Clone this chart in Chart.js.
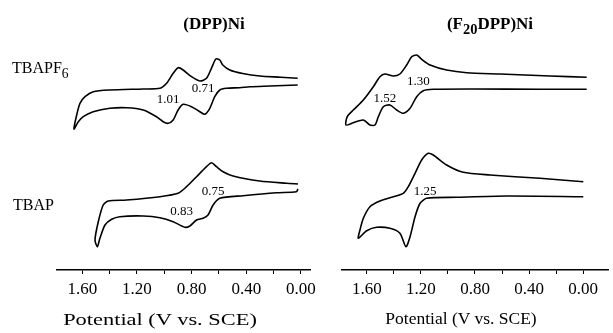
<!DOCTYPE html>
<html>
<head>
<meta charset="utf-8">
<script src="https://cdn.jsdelivr.net/npm/chart.js@4.4.0/dist/chart.umd.min.js"></script>
<style>
  body { margin: 0; background: #fff; width: 613px; height: 333px; position: relative; overflow: hidden;
         font-family: "Liberation Serif", "DejaVu Serif", serif; color: #000; }
  .box { position: absolute; top: 0; height: 333px; }
  #leftBox { left: 0; width: 330px; }
  #rightBox { left: 313px; width: 300px; }
  .txt { position: absolute; white-space: nowrap; line-height: 1; }
  .title { font-weight: bold; font-size: 17px; transform: translate(-50%, -50%); }
  .axis { font-size: 17.5px; }
  .row { font-size: 16px; transform: translateY(-50%); }
  sub { font-size: 0.85em; vertical-align: -0.35em; line-height: 0; }
</style>
</head>
<body>
<div class="box" id="leftBox"><canvas id="left"></canvas></div>
<div class="box" id="rightBox"><canvas id="right"></canvas></div>
<div class="txt title" style="left:214px;top:23px">(DPP)Ni</div>
<div class="txt title" style="left:490px;top:23px">(F<sub>20</sub>DPP)Ni</div>
<div class="txt row" style="left:12px;top:68px">TBAPF<sub>6</sub></div>
<div class="txt row" style="left:13px;top:205px">TBAP</div>
<div class="txt axis" style="left:160px;top:320px;transform:translate(-50%,-50%) scaleX(1.28)">Potential (V vs. SCE)</div>
<div class="txt axis" style="left:461px;top:319px;transform:translate(-50%,-50%)">Potential (V vs. SCE)</div>
<script>
// potentials (V vs. SCE) and currents (arbitrary units, curves offset vertically)
// each curve is traced as one loop: return branch right->left, then forward branch left->right

// (DPP)Ni, TBAPF6
const dppPf6E = [0.024, 0.229, 0.375, 0.448, 0.545, 0.594, 0.631, 0.667, 0.704, 0.740, 0.801, 0.862, 0.899, 0.935,
  0.972, 1.008, 1.057, 1.154, 1.276, 1.398, 1.520, 1.593, 1.629, 1.661,
  1.641, 1.617, 1.580, 1.520, 1.398, 1.157, 1.032, 0.983, 0.935, 0.899, 0.862, 0.801, 0.740, 0.691, 0.655,
  0.623, 0.594, 0.572, 0.521, 0.426, 0.300, 0.150, 0.024];
const dppPf6I = [185, 184, 183.3, 182.3, 181.7, 180, 173.3, 161.7, 155.7, 158.3, 163.3, 165.7, 160, 150,
  146.7, 148.3, 153.3, 160, 162.3, 161.7, 158.3, 153.3, 148.3, 141,
  155, 166.7, 173.3, 178.3, 180, 181, 181.7, 186.7, 196.7, 202.3, 200, 193.3, 189, 191.7, 201.7,
  211, 210, 205, 200, 196.5, 194, 192.8, 191.7];

// (DPP)Ni, TBAP
const dppTbapE = [0.022, 0.034, 0.180, 0.424, 0.594, 0.643, 0.680, 0.716, 0.764, 0.813, 0.850, 0.935, 1.032,
  1.154, 1.325, 1.385, 1.434, 1.471, 1.490,
  1.507, 1.483, 1.447, 1.410, 1.276, 1.032, 0.899, 0.837, 0.764, 0.691, 0.655, 0.618, 0.570, 0.497,
  0.302, 0.107, 0.022];
const dppTbapI = [81, 78.3, 77.3, 74.3, 71.7, 65, 55, 51.7, 50, 44, 42.7, 48.3, 52.3,
  54, 53.3, 50.7, 45, 31.7, 23.3,
  30, 48.3, 65, 69, 70, 73.3, 76.7, 83.3, 93.3, 103.3, 107.3, 103.3, 98.3, 94,
  89, 86.7, 86];

// (F20DPP)Ni, TBAPF6
const f20Pf6E = [-0.027, 0.319, 0.813, 1.109, 1.183, 1.232, 1.281, 1.331, 1.380, 1.430, 1.479, 1.516, 1.541,
  1.578, 1.627, 1.701, 1.756,
  1.746, 1.701, 1.627, 1.553, 1.504, 1.467, 1.405, 1.356, 1.306, 1.269, 1.232, 1.195, 1.133, 1.010,
  0.861, 0.615, 0.244, -0.027];
const f20Pf6I = [180.7, 180.7, 181, 180.7, 179.3, 173.3, 161.7, 156.7, 160, 165, 163.3, 153.3, 145,
  145, 150, 147.3, 145,
  153.3, 160, 170, 183.3, 193.3, 196, 194, 196, 205, 213.3, 215, 210.7, 205, 200,
  197.3, 196, 194, 192.7];

// (F20DPP)Ni, TBAP
const f20TbapE = [-0.002, 0.565, 0.936, 1.158, 1.207, 1.244, 1.281, 1.311, 1.356, 1.430, 1.528, 1.602, 1.664,
  1.652, 1.627, 1.578, 1.504, 1.405, 1.331, 1.294, 1.244, 1.195, 1.146, 1.109, 1.010, 0.887, 0.689,
  0.319, -0.002];
const f20TbapI = [73.3, 74, 72.7, 71.7, 66.7, 53.3, 33.3, 23.3, 36.7, 41.7, 42.7, 39.3, 31.7,
  40, 51.7, 63.3, 69, 73.3, 76.7, 83.3, 96.7, 110, 116.7, 115, 105, 97.7, 95,
  91.7, 88.3];

// peak potentials written inside the loops
const dppPeakText = ["1.01", "0.71", "0.75", "0.83"];
const dppPeakE = [0.972, 0.716, 0.643, 0.874];
const dppPeakI = [170, 181.7, 78.3, 58.3];
const f20PeakText = ["1.52", "1.30", "1.25"];
const f20PeakE = [1.467, 1.220, 1.170];
const f20PeakI = [171.7, 188.3, 78.3];

const FONT = '"Liberation Serif", "DejaVu Serif", serif';

function zip(xs, ys) {
  return xs.map((x, i) => ({ x, y: ys[i] }));
}

const peakLabels = {
  id: "peakLabels",
  afterDatasetsDraw(chart, args, opts) {
    const { ctx, scales } = chart;
    ctx.save();
    ctx.fillStyle = "#000";
    ctx.font = "13px " + FONT;
    ctx.textAlign = "center";
    ctx.textBaseline = "middle";
    opts.text.forEach((t, i) => {
      ctx.fillText(t, scales.x.getPixelForValue(opts.e[i]), scales.y.getPixelForValue(opts.i[i]));
    });
    ctx.restore();
  },
};

function makePanel(id, curves, labels, xMin, xMax, padLeft, padRight) {
  return new Chart(document.getElementById(id), {
    type: "scatter",
    data: {
      datasets: curves.map((c) => ({
        label: c.name,
        data: zip(c.e, c.i),
        showLine: true,
        borderColor: "#000",
        borderWidth: 1.6,
        pointRadius: 0,
        tension: 0.25,
      })),
    },
    options: {
      responsive: true,
      maintainAspectRatio: false,
      animation: false,
      layout: { padding: { top: 30, left: padLeft, right: padRight, bottom: 0 } },
      plugins: {
        legend: { display: false },
        tooltip: { enabled: false },
        peakLabels: labels,
      },
      scales: {
        x: {
          type: "linear",
          reverse: true,
          min: xMin,
          max: xMax,
          // axis title is placed as page text below; keep the axis band fixed
          afterFit: (s) => { s.height = 63; s.paddingLeft = 0; s.paddingRight = 0; },
          border: { display: true, color: "#000", width: 1.5 },
          grid: { display: true, drawOnChartArea: false, drawTicks: true, tickLength: 4, tickColor: "#000" },
          ticks: {
            stepSize: 0.2,
            includeBounds: false,
            autoSkip: false,
            maxRotation: 0,
            padding: 5,
            color: "#000",
            font: { family: FONT, size: 17 },
            callback: (v) => (Math.round(v * 10) % 4 === 0 ? v.toFixed(2) : ""),
          },
          title: { display: false },
        },
        y: { display: false, min: 0, max: 240 },
      },
    },
    plugins: [peakLabels],
  });
}

makePanel("left",
  [{ name: "TBAPF6", e: dppPf6E, i: dppPf6I }, { name: "TBAP", e: dppTbapE, i: dppTbapI }],
  { text: dppPeakText, e: dppPeakE, i: dppPeakI },
  -0.066, 1.785, 57, 20);

makePanel("right",
  [{ name: "TBAPF6", e: f20Pf6E, i: f20Pf6I }, { name: "TBAP", e: f20TbapE, i: f20TbapI }],
  { text: f20PeakText, e: f20PeakE, i: f20PeakI },
  -0.185, 1.785, 29, 5);
</script>
</body>
</html>
